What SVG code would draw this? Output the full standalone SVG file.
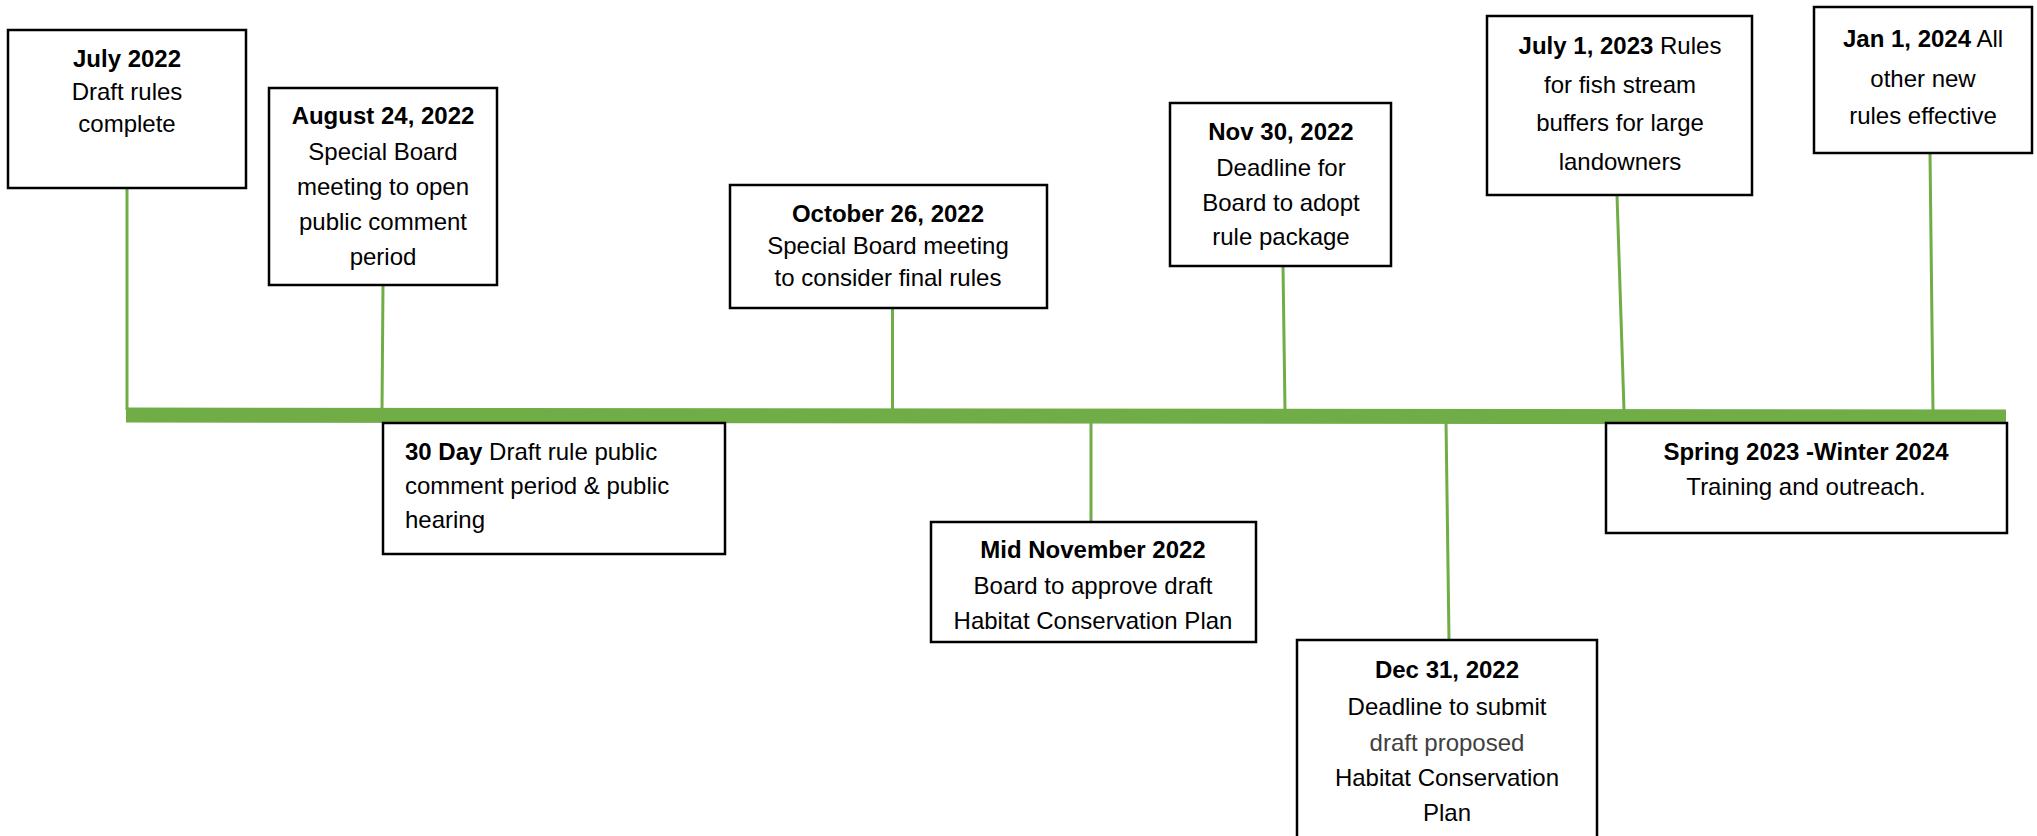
<svg xmlns="http://www.w3.org/2000/svg" width="2037" height="836" viewBox="0 0 2037 836">
<style>
.box{fill:#fff;stroke:#000;stroke-width:2.5}
.conn{stroke:#70AD47;stroke-width:3;fill:none}
.axis{stroke:#70AD47;stroke-width:15;fill:none}
text{font-family:"Liberation Sans",Arial,sans-serif;font-size:24px;fill:#000}
.c{text-anchor:middle}
.b{font-weight:bold}
</style>
<rect width="2037" height="836" fill="#fff"/>
<g id="connectors">
<line class="conn" x1="127" y1="188" x2="127" y2="410"/>
<line class="conn" x1="383" y1="285" x2="382" y2="410"/>
<line class="conn" x1="892.5" y1="308" x2="892.5" y2="410"/>
<line class="conn" x1="1091" y1="420" x2="1091" y2="522"/>
<line class="conn" x1="1283" y1="266" x2="1285" y2="410"/>
<line class="conn" x1="1446" y1="420" x2="1449" y2="640"/>
<line class="conn" x1="1617" y1="195" x2="1624" y2="410"/>
<line class="conn" x1="1930" y1="153" x2="1933" y2="410"/>
<line class="axis" x1="126" y1="415" x2="2006" y2="417"/>
</g>
<g id="n-jul2022">
<rect class="box" x="8" y="30" width="238" height="158"/>
<text class="c" x="127" y="67"><tspan class="b">July 2022</tspan></text>
<text class="c" x="127" y="100">Draft rules</text>
<text class="c" x="127" y="132">complete</text>
</g>
<g id="n-aug2022">
<rect class="box" x="269" y="88" width="228" height="197"/>
<text class="c b" x="383" y="124">August 24, 2022</text>
<text class="c" x="383" y="160">Special Board</text>
<text class="c" x="383" y="195">meeting to open</text>
<text class="c" x="383" y="230">public comment</text>
<text class="c" x="383" y="265">period</text>
</g>
<g id="n-30day">
<rect class="box" x="383" y="423" width="342" height="131"/>
<text x="405" y="460"><tspan class="b">30 Day</tspan> Draft rule public</text>
<text x="405" y="494">comment period &amp; public</text>
<text x="405" y="528">hearing</text>
</g>
<g id="n-oct2022">
<rect class="box" x="730" y="185" width="317" height="123"/>
<text class="c b" x="888" y="222">October 26, 2022</text>
<text class="c" x="888" y="254">Special Board meeting</text>
<text class="c" x="888" y="286">to consider final rules</text>
</g>
<g id="n-midnov2022">
<rect class="box" x="931" y="522" width="325" height="120"/>
<text class="c b" x="1093" y="558">Mid November 2022</text>
<text class="c" x="1093" y="594">Board to approve draft</text>
<text class="c" x="1093" y="629">Habitat Conservation Plan</text>
</g>
<g id="n-nov30">
<rect class="box" x="1170" y="103" width="221" height="163"/>
<text class="c b" x="1281" y="140">Nov 30, 2022</text>
<text class="c" x="1281" y="176">Deadline for</text>
<text class="c" x="1281" y="211">Board to adopt</text>
<text class="c" x="1281" y="245">rule package</text>
</g>
<g id="n-dec31">
<rect class="box" x="1297" y="640" width="300" height="210"/>
<text class="c b" x="1447" y="678">Dec 31, 2022</text>
<text class="c" x="1447" y="715">Deadline to submit</text>
<text class="c" x="1447" y="751" style="fill:#404040">draft proposed</text>
<text class="c" x="1447" y="786">Habitat Conservation</text>
<text class="c" x="1447" y="821">Plan</text>
</g>
<g id="n-jul2023">
<rect class="box" x="1487" y="16" width="265" height="179"/>
<text class="c" x="1620" y="54"><tspan class="b">July 1, 2023</tspan> Rules</text>
<text class="c" x="1620" y="93">for fish stream</text>
<text class="c" x="1620" y="131">buffers for large</text>
<text class="c" x="1620" y="170">landowners</text>
</g>
<g id="n-jan2024">
<rect class="box" x="1814" y="7" width="218" height="146"/>
<text class="c" x="1923" y="47"><tspan class="b">Jan 1, 2024</tspan> All</text>
<text class="c" x="1923" y="87">other new</text>
<text class="c" x="1923" y="124">rules effective</text>
</g>
<g id="n-spring">
<rect class="box" x="1606" y="423" width="401" height="110"/>
<text class="c b" x="1806" y="460">Spring 2023 -Winter 2024</text>
<text class="c" x="1806" y="495">Training and outreach.</text>
</g>
</svg>
